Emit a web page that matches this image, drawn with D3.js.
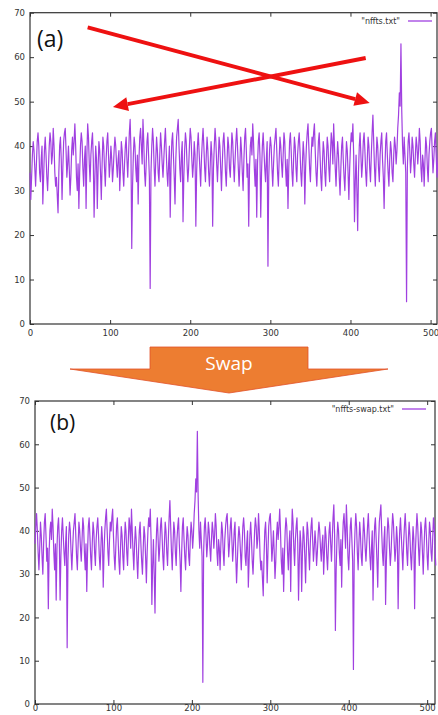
<!DOCTYPE html>
<html>
<head>
<meta charset="utf-8">
<script src="https://cdn.jsdelivr.net/npm/d3@7"></script>
<style>
  body { margin: 0; background: #fff; }
  svg { display: block; }
  .tick text { font-family: "DejaVu Sans", sans-serif; font-size: 8.5px; fill: #333; }
  .tick line { stroke: #333; }
</style>
</head>
<body>
<div id="chart"></div>
<script>
// nffts.txt
const nffts = [
  34, 28, 33, 38, 41, 39, 35, 31, 36, 41, 43, 40, 34, 32, 37, 40,
  27, 33, 39, 42, 38, 33, 30, 35, 40, 43, 41, 36, 38, 44, 40, 34,
  31, 33, 29, 25, 34, 40, 42, 37, 28, 35, 41, 43, 44, 39, 33, 36,
  40, 35, 29, 33, 39, 42, 38, 41, 45, 40, 33, 30, 36, 26, 34, 40,
  43, 41, 35, 31, 37, 40, 26, 38, 45, 42, 36, 32, 38, 41, 43, 37,
  24, 33, 40, 37, 26, 35, 41, 39, 34, 28, 36, 42, 40, 35, 31, 37,
  41, 43, 38, 33, 36, 40, 37, 32, 35, 39, 42, 40, 36, 33, 37, 39,
  30, 35, 41, 39, 34, 31, 36, 40, 42, 37, 33, 38, 43, 46, 39, 17,
  31, 38, 42, 40, 35, 32, 38, 27, 37, 42, 44, 40, 36, 46, 41, 34,
  31, 36, 41, 43, 38, 33, 8, 34, 40, 44, 41, 35, 31, 37, 42, 39,
  34, 32, 38, 43, 40, 36, 33, 37, 41, 44, 39, 34, 31, 36, 40, 24,
  35, 41, 43, 38, 33, 27, 37, 42, 44, 46, 40, 35, 32, 38, 41, 23,
  33, 39, 43, 41, 36, 32, 35, 40, 44, 42, 37, 33, 36, 41, 38, 22,
  34, 40, 43, 39, 35, 31, 37, 41, 44, 40, 35, 32, 38, 42, 39, 34,
  31, 36, 41, 38, 22, 35, 40, 44, 41, 36, 32, 37, 42, 40, 35, 30,
  36, 41, 43, 39, 34, 31, 37, 42, 40, 35, 33, 38, 43, 41, 36, 32,
  37, 41, 44, 40, 35, 31, 36, 42, 39, 34, 30, 37, 42, 44, 39, 33,
  36, 22, 35, 40, 42, 38, 45, 41, 35, 31, 37, 24, 36, 41, 43, 38,
  24, 34, 40, 43, 39, 35, 32, 37, 41, 13, 33, 39, 42, 40, 35, 31,
  36, 40, 42, 44, 39, 34, 31, 37, 42, 40, 36, 33, 38, 43, 41, 35,
  31, 37, 26, 35, 41, 43, 39, 34, 31, 37, 42, 40, 35, 32, 38, 41,
  43, 39, 34, 31, 36, 41, 38, 27, 35, 40, 43, 45, 40, 35, 32, 38,
  42, 40, 43, 45, 39, 34, 31, 36, 41, 43, 38, 33, 30, 36, 41, 39,
  34, 31, 37, 42, 40, 35, 32, 38, 43, 41, 36, 45, 40, 35, 31, 37,
  41, 38, 33, 29, 35, 40, 42, 37, 33, 30, 36, 41, 39, 34, 28, 35,
  40, 43, 41, 45, 38, 23, 32, 38, 30, 21, 34, 40, 43, 38, 33, 36,
  41, 43, 39, 34, 31, 37, 42, 40, 35, 32, 38, 43, 47, 41, 35, 31,
  37, 42, 40, 35, 32, 38, 41, 43, 37, 33, 26, 35, 41, 43, 38, 34,
  31, 37, 41, 39, 34, 32, 38, 42, 40, 36, 39, 44, 47, 52, 49, 63,
  48, 40, 36, 42, 38, 34, 5, 35, 41, 43, 39, 34, 37, 42, 40, 36,
  33, 38, 42, 40, 36, 39, 44, 41, 35, 32, 38, 36, 31, 37, 42, 40,
  35, 32, 38, 41, 43, 44, 39, 34, 37, 41, 43, 38, 33, 36, 40, 42
];

// nffts-swap.txt, panel (b): the two halves exchanged
const nfftsSwap = [
  37, 41, 44, 40, 35, 31, 36, 42, 39, 34, 30, 37, 42, 44, 39, 33,
  36, 22, 35, 40, 42, 38, 45, 41, 35, 31, 37, 24, 36, 41, 43, 38,
  24, 34, 40, 43, 39, 35, 32, 37, 41, 13, 33, 39, 42, 40, 35, 31,
  36, 40, 42, 44, 39, 34, 31, 37, 42, 40, 36, 33, 38, 43, 41, 35,
  31, 37, 26, 35, 41, 43, 39, 34, 31, 37, 42, 40, 35, 32, 38, 41,
  43, 39, 34, 31, 36, 41, 38, 27, 35, 40, 43, 45, 40, 35, 32, 38,
  42, 40, 43, 45, 39, 34, 31, 36, 41, 43, 38, 33, 30, 36, 41, 39,
  34, 31, 37, 42, 40, 35, 32, 38, 43, 41, 36, 45, 40, 35, 31, 37,
  41, 38, 33, 29, 35, 40, 42, 37, 33, 30, 36, 41, 39, 34, 28, 35,
  40, 43, 41, 45, 38, 23, 32, 38, 30, 21, 34, 40, 43, 38, 33, 36,
  41, 43, 39, 34, 31, 37, 42, 40, 35, 32, 38, 43, 47, 41, 35, 31,
  37, 42, 40, 35, 32, 38, 41, 43, 37, 33, 26, 35, 41, 43, 38, 34,
  31, 37, 41, 39, 34, 32, 38, 42, 40, 36, 39, 44, 47, 52, 49, 63,
  48, 40, 36, 42, 38, 34, 5, 35, 41, 43, 39, 34, 37, 42, 40, 36,
  33, 38, 42, 40, 36, 39, 44, 41, 35, 32, 38, 36, 31, 37, 42, 40,
  35, 32, 38, 41, 43, 44, 39, 34, 37, 41, 43, 38, 33, 36, 40, 42,
  34, 28, 33, 38, 41, 39, 35, 31, 36, 41, 43, 40, 34, 32, 37, 40,
  27, 33, 39, 42, 38, 33, 30, 35, 40, 43, 41, 36, 38, 44, 40, 34,
  31, 33, 29, 25, 34, 40, 42, 37, 28, 35, 41, 43, 44, 39, 33, 36,
  40, 35, 29, 33, 39, 42, 38, 41, 45, 40, 33, 30, 36, 26, 34, 40,
  43, 41, 35, 31, 37, 40, 26, 38, 45, 42, 36, 32, 38, 41, 43, 37,
  24, 33, 40, 37, 26, 35, 41, 39, 34, 28, 36, 42, 40, 35, 31, 37,
  41, 43, 38, 33, 36, 40, 37, 32, 35, 39, 42, 40, 36, 33, 37, 39,
  30, 35, 41, 39, 34, 31, 36, 40, 42, 37, 33, 38, 43, 46, 39, 17,
  31, 38, 42, 40, 35, 32, 38, 27, 37, 42, 44, 40, 36, 46, 41, 34,
  31, 36, 41, 43, 38, 33, 8, 34, 40, 44, 41, 35, 31, 37, 42, 39,
  34, 32, 38, 43, 40, 36, 33, 37, 41, 44, 39, 34, 31, 36, 40, 24,
  35, 41, 43, 38, 33, 27, 37, 42, 44, 46, 40, 35, 32, 38, 41, 23,
  33, 39, 43, 41, 36, 32, 35, 40, 44, 42, 37, 33, 36, 41, 38, 22,
  34, 40, 43, 39, 35, 31, 37, 41, 44, 40, 35, 32, 38, 42, 39, 34,
  31, 36, 41, 38, 22, 35, 40, 44, 41, 36, 32, 37, 42, 40, 35, 30,
  36, 41, 43, 39, 34, 31, 37, 42, 40, 35, 33, 38, 43, 41, 36, 32
];

const xTicks = [0, 100, 200, 300, 400, 500];
const yTicks = [0, 10, 20, 30, 40, 50, 60, 70];

const lineColor = "#a040e0";

const svg = d3.select("#chart").append("svg")
    .attr("width", 438)
    .attr("height", 715);

svg.append("rect").attr("width", 438).attr("height", 715).attr("fill", "#fff");

const panelA = drawPanel(nffts, {left: 30, right: 437, top: 12.7, bottom: 324, xMax: 508, xPad: 6,
    label: "(a)", labelX: 37, labelY: 47, labelSize: 23,
    legend: "\"nffts.txt\"", legendX: 400, legendY: 24});
drawPanel(nfftsSwap, {left: 35, right: 435, top: 401, bottom: 704, xMax: 510, xPad: 1,
    label: "(b)", labelX: 50, labelY: 430, labelSize: 21,
    legend: "\"nffts-swap.txt\"", legendX: 394, legendY: 412});

// red crossing arrows in panel (a), given in data units
drawRedArrow(panelA, [72, 66.7], [424, 49.7]);
drawRedArrow(panelA, [419, 59.8], [103.5, 48.8]);

drawSwapArrow();

function drawPanel(data, o) {
    const x = d3.scaleLinear().domain([0, o.xMax]).range([o.left, o.right]);
    const y = d3.scaleLinear().domain([0, 70]).range([o.bottom, o.top]);
    const g = svg.append("g");

    g.append("g")
        .attr("transform", `translate(${o.left},0)`)
        .call(d3.axisLeft(y).tickValues(yTicks).tickSize(-4).tickPadding(5))
        .call(a => a.select(".domain").remove());
    g.append("g")
        .attr("transform", `translate(${o.right},0)`)
        .call(d3.axisRight(y).tickValues(yTicks).tickSize(-4).tickFormat(""))
        .call(a => a.select(".domain").remove());
    g.append("g")
        .attr("transform", `translate(0,${o.bottom})`)
        .call(d3.axisBottom(x).tickValues(xTicks).tickSize(-4).tickPadding(o.xPad))
        .call(a => a.select(".domain").remove());
    g.append("g")
        .attr("transform", `translate(0,${o.top})`)
        .call(d3.axisTop(x).tickValues(xTicks).tickSize(-4).tickFormat(""))
        .call(a => a.select(".domain").remove());

    g.append("rect")
        .attr("x", o.left).attr("y", o.top)
        .attr("width", o.right - o.left).attr("height", o.bottom - o.top)
        .attr("fill", "none").attr("stroke", "#333").attr("stroke-width", 1.2);

    const line = d3.line().x((d, i) => x(i)).y(d => y(d));
    g.append("path")
        .datum(data)
        .attr("d", line)
        .attr("fill", "none")
        .attr("stroke", lineColor)
        .attr("stroke-width", 1.2)
        .attr("stroke-linejoin", "round");

    g.append("text")
        .attr("x", o.labelX).attr("y", o.labelY)
        .attr("font-family", "Open Sans, sans-serif")
        .attr("font-size", o.labelSize)
        .attr("fill", "#111")
        .text(o.label);

    g.append("text")
        .attr("x", o.legendX).attr("y", o.legendY)
        .attr("text-anchor", "end")
        .attr("font-family", "DejaVu Sans, sans-serif")
        .attr("font-size", 8)
        .attr("fill", "#333")
        .text(o.legend);
    g.append("line")
        .attr("x1", o.legendX + 8).attr("x2", o.legendX + 32)
        .attr("y1", o.legendY - 3).attr("y2", o.legendY - 3)
        .attr("stroke", lineColor).attr("stroke-width", 1.3);

    return {x, y};
}

function drawRedArrow(p, from, to) {
    const x0 = p.x(from[0]), y0 = p.y(from[1]);
    const x1 = p.x(to[0]), y1 = p.y(to[1]);
    const ang = Math.atan2(y1 - y0, x1 - x0);
    const headLen = 15, headW = 7;
    const bx = x1 - headLen * Math.cos(ang), by = y1 - headLen * Math.sin(ang);
    svg.append("line")
        .attr("x1", x0).attr("y1", y0).attr("x2", bx).attr("y2", by)
        .attr("stroke", "#ee1111").attr("stroke-width", 4);
    const nx = -Math.sin(ang) * headW, ny = Math.cos(ang) * headW;
    svg.append("polygon")
        .attr("points", [[x1, y1], [bx + nx, by + ny], [bx - nx, by - ny]].map(d => d.join(",")).join(" "))
        .attr("fill", "#ee1111");
}

function drawSwapArrow() {
    const cx = 229;
    const pts = [[cx - 79, 347], [cx + 79, 347], [cx + 79, 369], [cx + 159, 369],
                 [cx, 393], [cx - 159, 369], [cx - 79, 369]];
    svg.append("polygon")
        .attr("points", pts.map(d => d.join(",")).join(" "))
        .attr("fill", "#ed7d31")
        .attr("stroke", "#e2522a")
        .attr("stroke-width", 0.8);
    svg.append("text")
        .attr("x", cx).attr("y", 370)
        .attr("text-anchor", "middle")
        .attr("font-family", "Open Sans, sans-serif")
        .attr("font-size", 19)
        .attr("fill", "#fff")
        .text("Swap");
}
</script>
</body>
</html>
